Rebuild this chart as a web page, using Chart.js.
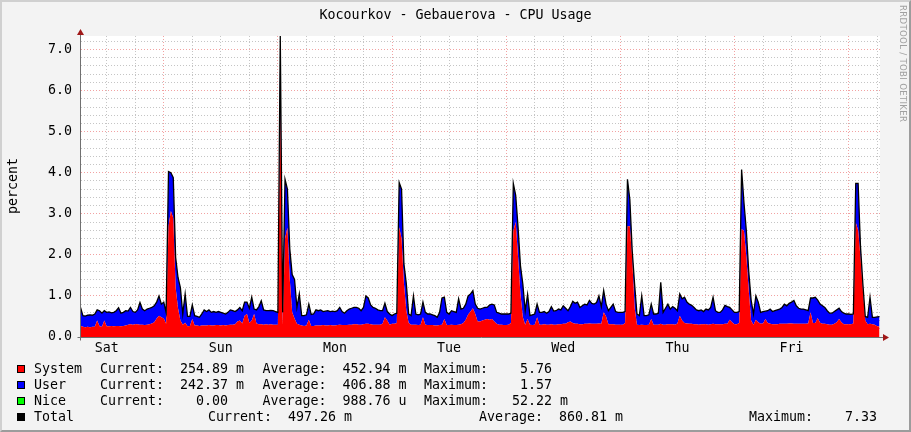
<!DOCTYPE html>
<html>
<head>
<meta charset="utf-8">
<script src="https://cdn.jsdelivr.net/npm/chart.js@4.4.1/dist/chart.umd.min.js"></script>
<style>
  html, body { margin: 0; padding: 0; }
  body { width: 911px; height: 432px; position: relative; overflow: hidden; background: #F3F3F3;
         font-family: 'DejaVu Sans Mono', monospace; font-size: 13.3px; color: #000; }
  #frame { position: absolute; left: 0; top: 0; width: 911px; height: 432px; box-sizing: border-box;
           border-top: 2px solid #D0D0D0; border-left: 2px solid #D0D0D0;
           border-right: 2px solid #9C9C9C; border-bottom: 2px solid #9C9C9C; pointer-events: none; }
  canvas { position: absolute; left: 0; top: 0; }
  .t { position: absolute; white-space: pre; line-height: 13px; }
  .box { position: absolute; left: 17px; width: 6px; height: 6px; border: 1px solid #000; }
  #title { left: 0; width: 911px; top: 8px; text-align: center; }
  #pct { left: 12px; top: 186px; transform: translate(-50%, -50%) rotate(-90deg); }
  #mark { position: absolute; left: 898px; top: 5px; writing-mode: vertical-rl; font-family: 'DejaVu Sans', sans-serif;
          font-size: 8.6px; color: #A0A0A0; letter-spacing: 0.3px; white-space: pre; }
</style>
</head>
<body>
<canvas id="cpuChart" width="911" height="432"></canvas>
<div class="t" id="title">Kocourkov - Gebauerova - CPU Usage</div>
<div class="t" id="pct">percent</div>
<div id="mark">RRDTOOL / TOBI OETIKER</div>
<div id="legend"></div>
<div id="frame"></div>
<script>
// half hour samples, first one at Sat 06:30 (hours counted from Sat 00:00)
const START_H = 6.5;
const STEP_H = 0.5;

const days = ['Sat', 'Sun', 'Mon', 'Tue', 'Wed', 'Thu', 'Fri'];

const system = [
  .27,.25,.24,.25,.24,.25,.25,.40,.26,.25,.40,.26,
  .26,.27,.26,.27,.27,.26,.27,.28,.30,.31,.30,.31,
  .31,.30,.30,.29,.30,.31,.33,.36,.45,.52,.48,.45,
  .32,2.70,3.07,2.90,1.20,.70,.40,.30,.35,.26,.27,.44,
  .28,.28,.27,.28,.28,.28,.29,.28,.28,.29,.29,.28,
  .29,.28,.29,.30,.30,.31,.38,.40,.33,.52,.56,.34,
  .40,.56,.33,.31,.31,.30,.31,.30,.31,.30,.30,.30,
  5.76,.30,2.40,2.66,1.40,.60,.45,.32,.30,.28,.27,.28,
  .42,.27,.27,.28,.28,.28,.29,.28,.28,.29,.28,.28,
  .29,.30,.29,.29,.29,.30,.30,.31,.31,.30,.30,.31,
  .32,.32,.31,.30,.30,.30,.30,.32,.48,.40,.30,.32,
  .32,.34,2.67,2.40,1.30,.64,.34,.30,.30,.30,.29,.30,
  .48,.30,.29,.29,.29,.28,.28,.29,.30,.44,.29,.29,
  .30,.29,.29,.30,.31,.34,.42,.55,.62,.70,.56,.38,
  .38,.40,.42,.44,.42,.44,.38,.32,.30,.30,.29,.29,
  .30,.34,2.58,2.80,1.94,1.05,.48,.30,.44,.30,.29,.30,
  .48,.30,.30,.31,.30,.30,.31,.30,.30,.31,.31,.32,
  .32,.36,.38,.34,.32,.32,.31,.31,.32,.32,.33,.32,
  .32,.32,.33,.32,.60,.50,.31,.31,.31,.30,.30,.30,
  .30,.34,2.70,2.70,1.90,.72,.30,.29,.30,.29,.29,.30,
  .44,.30,.30,.30,.32,.30,.30,.31,.31,.31,.30,.33,
  .52,.40,.34,.33,.32,.32,.31,.31,.30,.31,.31,.31,
  .30,.31,.32,.31,.31,.31,.31,.32,.32,.42,.36,.31,
  .31,.34,2.63,2.58,1.94,1.13,.40,.30,.42,.36,.32,.33,
  .44,.34,.32,.31,.31,.31,.32,.32,.32,.32,.33,.33,
  .32,.32,.32,.32,.32,.32,.33,.60,.34,.34,.46,.35,
  .32,.32,.31,.30,.30,.32,.36,.44,.36,.31,.31,.31,
  .31,.33,2.79,2.60,1.94,1.13,.40,.31,.32,.31,.30,.26,
  .255
];

const user = [
  .45,.27,.27,.28,.30,.28,.31,.26,.38,.33,.24,.34,
  .35,.32,.34,.37,.44,.32,.33,.36,.33,.41,.32,.29,
  .35,.54,.38,.35,.38,.39,.39,.40,.40,.48,.32,.40,
  .28,1.33,.93,.98,.74,.75,.80,.26,.70,.24,.23,.34,
  .24,.22,.21,.28,.38,.34,.37,.32,.34,.31,.33,.32,
  .29,.28,.31,.36,.34,.31,.28,.32,.31,.33,.29,.36,
  .57,.12,.33,.43,.57,.36,.33,.34,.34,.34,.32,.30,
  1.57,.30,1.44,.94,.75,.92,.95,.40,.75,.24,.25,.26,
  .33,.28,.29,.38,.36,.38,.33,.35,.36,.33,.35,.34,
  .35,.42,.33,.29,.35,.38,.40,.41,.41,.40,.34,.41,
  .68,.63,.47,.42,.40,.36,.34,.32,.34,.22,.26,.20,
  .24,.24,1.09,1.20,.48,.66,.22,.22,.70,.26,.25,.26,
  .37,.30,.27,.27,.25,.24,.20,.31,.65,.53,.31,.27,
  .34,.33,.31,.63,.37,.36,.38,.45,.43,.43,.24,.32,
  .30,.30,.30,.28,.36,.36,.40,.28,.28,.26,.27,.27,
  .26,.24,1.16,.65,.73,.69,.81,.34,.60,.22,.25,.26,
  .32,.30,.30,.31,.28,.32,.43,.33,.34,.37,.35,.44,
  .38,.28,.36,.53,.50,.53,.41,.45,.48,.46,.56,.50,
  .48,.52,.67,.42,.53,.30,.33,.41,.49,.32,.30,.30,
  .30,.28,1.14,.65,.20,.57,.26,.23,.70,.23,.23,.24,
  .31,.26,.26,.28,1.01,.30,.40,.49,.37,.43,.40,.31,
  .53,.53,.63,.52,.48,.45,.41,.35,.34,.35,.31,.37,
  .36,.41,.65,.33,.29,.29,.35,.45,.42,.30,.30,.29,
  .29,.28,1.45,.69,.64,.47,.50,.26,.58,.49,.28,.29,
  .19,.30,.36,.31,.33,.35,.36,.40,.48,.44,.49,.52,
  .57,.44,.38,.36,.36,.34,.31,.35,.61,.63,.44,.45,
  .44,.40,.33,.28,.28,.30,.30,.26,.26,.27,.25,.25,
  .24,.23,.95,1.14,.26,.16,.10,.17,.65,.17,.18,.23,
  .242
];

const nice = [
  0,0,0,0,0,0,0,0,0,0,0,0, 0,0,0,0,0,0,0,0,0,0,0,0,
  0,0,0,0,0,0,0,0,0,0,0,0, 0,0,0,0,0,0,0,0,0,0,0,0,
  0,0,0,0,0,0,0,0,0,0,0,0, 0,0,0,0,0,0,0,0,0,0,0,0,
  0,0,0,0,0,0,0,0,0,0,0,0, 0,0,0,0,0,0,0,0,0,0,0,0,
  .05,0,0,0,0,0,0,0,0,0,0,0, 0,0,0,0,0,0,0,0,0,0,0,0,
  0,0,0,0,0,0,0,0,0,0,0,0, 0,0,0,0,0,0,0,0,0,0,0,0,
  0,0,0,0,0,0,0,0,0,0,0,0, 0,0,0,0,0,0,0,0,0,0,0,0,
  0,0,0,0,0,0,0,0,0,0,0,0, 0,0,0,0,0,0,0,0,0,0,0,0,
  0,0,0,0,0,0,0,0,0,0,0,0, 0,0,0,0,0,0,0,0,0,0,0,0,
  0,0,0,0,0,0,0,0,0,0,0,0, 0,0,0,0,0,0,0,0,0,0,0,0,
  .05,0,0,0,0,0,0,0,0,0,0,0, 0,0,0,0,0,0,0,0,0,0,0,0,
  0,0,0,0,0,0,0,0,0,0,0,0, 0,0,0,0,0,0,0,0,0,0,0,0,
  0,0,0,0,0,0,0,0,0,0,0,0, 0,0,0,0,0,0,0,0,0,0,0,0,
  0,0,0,0,0,0,0,0,0,0,0,0, 0,0,0,0,0,0,0,0,0,0,0,0,
  0
];

const yTicks = [0, 1, 2, 3, 4, 5, 6, 7];

// legend text (rrdtool GPRINT lines)
const legendNames = ['System', 'User', 'Nice', 'Total'];
const legendColors = ['#FF0000', '#0000FF', '#00FF00', '#000000'];
const legendCurrent = ['254.89 m', '242.37 m', '  0.00  ', '497.26 m'];
const legendAverage = ['452.94 m', '406.88 m', '988.76 u', '860.81 m'];
const legendMaximum = ['  5.76  ', '  1.57  ', ' 52.22 m', '  7.33  '];

const FONT = "'DejaVu Sans Mono', monospace";
const minorGrid = 'rgba(150,150,150,0.55)';
const majorGrid = 'rgba(230,70,70,0.5)';

function buildLegend() {
  const box = document.getElementById('legend');
  legendNames.forEach((name, i) => {
    const top = 362 + i * 16;
    const total = i === 3;
    const parts = [
      [34, name],
      [total ? 208 : 100, 'Current:  ' + legendCurrent[i]],
      [total ? 479 : 262.5, 'Average:  ' + legendAverage[i]],
      [total ? 749 : 424, 'Maximum:  ' + legendMaximum[i]]
    ];
    const sq = document.createElement('div');
    sq.className = 'box';
    sq.style.top = (top + 3) + 'px';
    sq.style.background = legendColors[i];
    box.appendChild(sq);
    parts.forEach(([x, txt]) => {
      const d = document.createElement('div');
      d.className = 't';
      d.style.left = x + 'px';
      d.style.top = top + 'px';
      d.textContent = txt;
      box.appendChild(d);
    });
  });
}

// white canvas area, axis lines and arrows like rrdtool
const rrdFrame = {
  id: 'rrdFrame',
  beforeDraw(chart) {
    const { ctx, chartArea: a } = chart;
    ctx.save();
    ctx.fillStyle = '#FFFFFF';
    ctx.fillRect(a.left, a.top, a.right - a.left, a.bottom - a.top);
    ctx.restore();
  },
  afterDatasetsDraw(chart) {
    const { ctx, chartArea: a } = chart;
    const x0 = Math.round(a.left) - 0.5;
    const y0 = Math.round(a.bottom) + 0.5;
    ctx.save();
    ctx.strokeStyle = '#707070';
    ctx.lineWidth = 1;
    ctx.beginPath();
    ctx.moveTo(x0, y0 + 3);
    ctx.lineTo(x0, a.top - 3);
    ctx.moveTo(x0 - 3, y0);
    ctx.lineTo(a.right + 5, y0);
    ctx.stroke();
    ctx.fillStyle = '#A01818';
    ctx.beginPath();
    ctx.moveTo(x0, a.top - 7);
    ctx.lineTo(x0 - 3.5, a.top - 1);
    ctx.lineTo(x0 + 3.5, a.top - 1);
    ctx.fill();
    ctx.beginPath();
    ctx.moveTo(a.right + 9, y0);
    ctx.lineTo(a.right + 3, y0 - 3.5);
    ctx.lineTo(a.right + 3, y0 + 3.5);
    ctx.fill();
    ctx.restore();
  }
};

function drawChart() {
  const hours = system.map((_, i) => START_H + i * STEP_H);
  const canvas = document.getElementById('cpuChart').getContext('2d');

  new Chart(canvas, {
    type: 'line',
    data: {
      labels: hours,
      datasets: [
        { label: 'System', data: system, backgroundColor: '#FF0000', borderColor: 'transparent',
          borderWidth: 0, fill: 'origin', pointRadius: 0 },
        { label: 'User', data: user, backgroundColor: '#0000FF', borderColor: 'transparent',
          borderWidth: 0, fill: '-1', pointRadius: 0 },
        // top of the stack, its border is the black "Total" line
        { label: 'Nice', data: nice, backgroundColor: '#00FF00', borderColor: '#000000',
          borderWidth: 1.3, fill: '-1', pointRadius: 0 }
      ]
    },
    options: {
      responsive: false,
      animation: false,
      devicePixelRatio: 1,
      layout: { padding: { left: 0, top: 36, right: 31, bottom: 0 } },
      plugins: {
        legend: { display: false },
        tooltip: { enabled: false },
        title: { display: false },
        filler: { drawTime: 'beforeDatasetsDraw' }
      },
      scales: {
        x: {
          type: 'linear',
          min: 6.6,
          max: 174.6,
          afterBuildTicks: s => {
            const t = [];
            for (let h = 12; h <= 174; h += 6) t.push({ value: h });
            s.ticks = t;
          },
          afterFit: s => { s.height = 95; },
          grid: {
            drawTicks: false,
            lineWidth: 1,
            color: c => (c.tick && c.tick.value % 24 === 0) ? majorGrid : minorGrid
          },
          border: { display: false, dash: [1, 2] },
          ticks: {
            autoSkip: false,
            maxRotation: 0,
            padding: 4,
            color: '#000',
            font: { family: FONT, size: 13.3 },
            callback: v => (v % 24 === 12) ? days[(v - 12) / 24] : ''
          }
        },
        y: {
          stacked: true,
          min: 0,
          max: 7.33,
          afterBuildTicks: s => {
            const t = [];
            for (let k = 0; k <= 36; k++) t.push({ value: k / 5 });
            s.ticks = t;
          },
          afterFit: s => { s.width = 81; },
          grid: {
            drawTicks: false,
            lineWidth: 1,
            color: c => (c.tick && yTicks.includes(c.tick.value)) ? majorGrid : minorGrid
          },
          border: { display: false, dash: [1, 2] },
          ticks: {
            autoSkip: false,
            padding: 9,
            color: '#000',
            font: { family: FONT, size: 13.3 },
            callback: v => yTicks.includes(v) ? v.toFixed(1) : ''
          }
        }
      }
    },
    plugins: [rrdFrame]
  });
}

document.addEventListener('DOMContentLoaded', () => {
  buildLegend();
  drawChart();
});
</script>
</body>
</html>
